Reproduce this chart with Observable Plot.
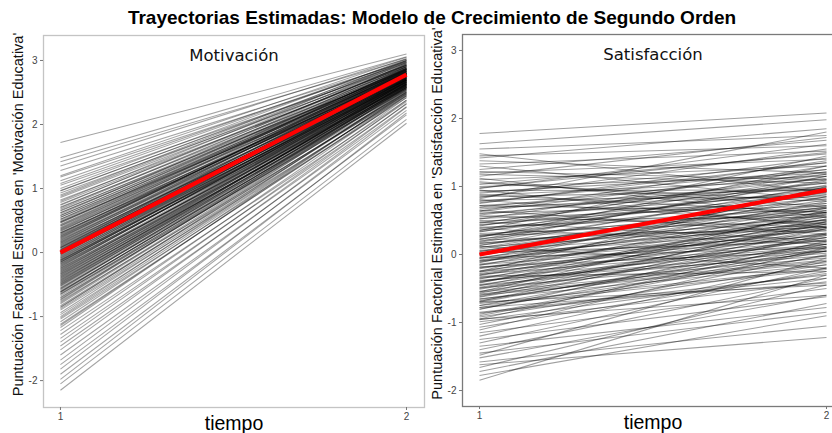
<!DOCTYPE html>
<html>
<head>
<meta charset="utf-8">
<script src="https://cdn.jsdelivr.net/npm/d3@7"></script>
<script src="https://cdn.jsdelivr.net/npm/@observablehq/plot@0.6"></script>
<style>
  html, body { margin: 0; padding: 0; background: #fff; }
  body { width: 832px; height: 433px; overflow: hidden; position: relative; font-family: "Liberation Sans", Arial, sans-serif; }
  #title { position: absolute; left: 0; top: 7px; width: 864px; text-align: center; font: bold 19px "Liberation Sans", Arial, sans-serif; color: #000; white-space: nowrap; z-index: 2; }
  .panel { position: absolute; top: 0; }
  .panel svg { max-width: none !important; }
</style>
</head>
<body>
<div id="title">Trayectorias Estimadas: Modelo de Crecimiento de Segundo Orden</div>
<div id="left" class="panel" style="left:0px"></div>
<div id="right" class="panel" style="left:415px"></div>
<script>
// ---- data ----
const tiempos = [1, 2];
const yTicksMot = [-2, -1, 0, 1, 2, 3];
const yTicksSat = [-2, -1, 0, 1, 2, 3];

const motStart = [
  1.72, 1.48, 1.42, 1.35, 1.28, 1.20, 1.18, 1.12, 1.05, 1.00,
  0.97, 0.93, 0.90, 0.86, 0.82, 0.80, 0.78, 0.74, 0.71, 0.68,
  0.65, 0.62, 0.60, 0.58, 0.55, 0.52, 0.50, 0.48, 0.46, 0.43,
  0.41, 0.39, 0.37, 0.35, 0.33, 0.31, 0.29, 0.27, 0.25, 0.24,
  0.22, 0.20, 0.18, 0.17, 0.15, 0.13, 0.12, 0.10, 0.08, 0.07,
  0.05, 0.04, 0.02, 0.01, -0.01, -0.02, -0.04, -0.05, -0.07, -0.08,
  -0.10, -0.11, -0.13, -0.14, -0.16, -0.17, -0.19, -0.20, -0.22, -0.24,
  -0.25, -0.27, -0.29, -0.30, -0.32, -0.34, -0.36, -0.38, -0.40, -0.42,
  -0.44, -0.46, -0.48, -0.50, -0.52, -0.55, -0.57, -0.60, -0.62, -0.65,
  -0.68, -0.70, -0.73, -0.76, -0.80, -0.83, -0.86, -0.90, -0.94, -0.97,
  -1.00, -1.04, -1.08, -1.12, -1.17, -1.22, -1.28, -1.34, -1.40, -1.46,
  -1.52, -1.60, -1.68, -1.75, -1.82, -1.90, -1.98, -2.05, -2.15, 0.03,
  0.28, -0.33, 0.58, -0.62, 0.09, -0.15, 0.44, -0.85, 0.75, -0.45,
  0.62, 0.55, 0.48, 0.42, 0.36, 0.30, 0.26, 0.21, 0.16, 0.11,
  0.06, 0.00, -0.03, -0.06, -0.09, -0.12, -0.18, -0.21, -0.26, -0.31,
  -0.35, -0.39, -0.43, -0.47, -0.51, -0.56, -0.61, -0.66, -0.71, -0.78,
  0.70, 0.52, 0.38, 0.19, 0.04, -0.15, -0.28, -0.49, -0.64, -0.88,
  0.88, 0.34, 0.14, -0.02, -0.23, -0.41, -0.58, 0.47, 0.23, -0.12,
  0.96, 1.08, -1.02, -1.14, 0.66, -0.74, 0.08, -0.37, 0.31, -0.53
];
const motEnd = [
  3.10, 3.06, 3.02, 3.05, 2.98, 3.03, 2.96, 3.00, 2.92, 3.02,
  2.95, 2.90, 3.00, 2.93, 2.88, 2.99, 2.91, 2.97, 2.86, 2.94,
  2.90, 2.84, 2.95, 2.88, 2.82, 2.93, 2.87, 2.80, 2.91, 2.85,
  2.79, 2.89, 2.83, 2.77, 2.90, 2.81, 2.86, 2.75, 2.84, 2.79,
  2.88, 2.74, 2.82, 2.78, 2.85, 2.72, 2.80, 2.76, 2.83, 2.70,
  2.79, 2.74, 2.82, 2.69, 2.77, 2.72, 2.80, 2.67, 2.75, 2.70,
  2.78, 2.66, 2.73, 2.69, 2.76, 2.63, 2.71, 2.67, 2.74, 2.61,
  2.70, 2.65, 2.72, 2.60, 2.68, 2.63, 2.71, 2.58, 2.66, 2.61,
  2.69, 2.56, 2.64, 2.59, 2.67, 2.53, 2.62, 2.57, 2.64, 2.50,
  2.59, 2.54, 2.62, 2.48, 2.56, 2.51, 2.58, 2.45, 2.53, 2.47,
  2.55, 2.42, 2.49, 2.44, 2.51, 2.38, 2.45, 2.36, 2.42, 2.32,
  2.38, 2.28, 2.33, 2.22, 2.27, 2.15, 2.18, 2.08, 2.02, 2.76,
  2.80, 2.66, 2.86, 2.60, 2.73, 2.70, 2.88, 2.52, 2.92, 2.63,
  2.90, 2.86, 2.84, 2.87, 2.82, 2.78, 2.84, 2.80, 2.76, 2.79,
  2.74, 2.78, 2.72, 2.76, 2.71, 2.75, 2.68, 2.72, 2.66, 2.70,
  2.64, 2.68, 2.62, 2.66, 2.60, 2.63, 2.58, 2.61, 2.56, 2.58,
  2.93, 2.81, 2.86, 2.83, 2.80, 2.73, 2.69, 2.64, 2.55, 2.50,
  2.97, 2.76, 2.71, 2.66, 2.77, 2.58, 2.68, 2.80, 2.86, 2.64,
  2.98, 3.00, 2.48, 2.46, 2.83, 2.60, 2.77, 2.62, 2.74, 2.57
];
const motMean = [0, 2.78];

const satStart = [
  1.78, 1.63, 1.55, 1.48, 1.45, 1.42, 1.38, 1.33, 1.30, 1.25,
  1.20, 1.18, 1.15, 1.10, 1.07, 1.03, 1.00, 0.97, 0.94, 0.90,
  0.87, 0.84, 0.80, 0.78, 0.75, 0.72, 0.70, 0.67, 0.64, 0.61,
  0.58, 0.55, 0.52, 0.50, 0.47, 0.44, 0.42, 0.39, 0.36, 0.33,
  0.31, 0.28, 0.26, 0.23, 0.21, 0.18, 0.16, 0.13, 0.11, 0.08,
  0.06, 0.04, 0.01, -0.01, -0.04, -0.06, -0.09, -0.11, -0.14, -0.16,
  -0.19, -0.21, -0.24, -0.26, -0.29, -0.31, -0.34, -0.36, -0.39, -0.41,
  -0.44, -0.46, -0.49, -0.51, -0.54, -0.57, -0.60, -0.63, -0.66, -0.69,
  -0.72, -0.75, -0.78, -0.81, -0.85, -0.88, -0.92, -0.95, -0.99, -1.03,
  -1.07, -1.11, -1.15, -1.20, -1.25, -1.30, -1.35, -1.40, -1.45, -1.48,
  -1.52, -1.58, -1.62, -1.66, -1.72, -1.78, -1.85, 0.95, 0.35, -0.25,
  0.65, 0.12, -0.55, 1.12, -0.05, 0.48, -0.70, 0.25, -0.32, 0.82,
  0.92, 0.85, 0.76, 0.69, 0.60, 0.53, 0.46, 0.40, 0.34, 0.27,
  0.22, 0.17, 0.10, 0.05, 0.00, -0.05, -0.10, -0.15, -0.20, -0.25,
  -0.30, -0.35, -0.40, -0.45, -0.50, -0.55, -0.60, -0.65, -0.70, -0.75,
  -0.80, -0.86, -0.90, -0.96, 0.98, 0.88, 0.72, 0.57, 0.43, 0.29,
  0.14, 0.02, -0.08, -0.18, -0.28, -0.38, -0.48, -0.58, -0.68, -0.78,
  1.22, 1.05, 0.80, 0.63, 0.38, 0.19, -0.12, -0.42, -0.62, -0.95
];
const satEnd = [
  2.08, 1.98, 1.75, 0.92, 1.60, 1.85, 1.20, 1.52, 0.80, 1.68,
  1.40, 1.05, 1.72, 1.30, 0.70, 1.48, 1.15, 1.62, 0.95, 1.35,
  1.10, 1.55, 0.85, 1.25, 1.42, 0.62, 1.18, 0.98, 1.38, 0.75,
  1.12, 0.90, 1.30, 0.55, 1.05, 0.82, 1.22, 0.68, 0.98, 1.15,
  0.50, 0.88, 1.08, 0.72, 0.40, 0.95, 0.62, 1.02, 0.45, 0.80,
  0.58, 0.92, 0.35, 0.70, 0.48, 0.85, 0.28, 0.62, 0.42, 0.78,
  0.20, 0.55, 0.38, 0.68, 0.12, 0.48, 0.30, 0.60, 0.05, 0.40,
  0.22, 0.52, -0.05, 0.32, 0.15, 0.45, -0.12, 0.25, 0.05, 0.38,
  -0.20, 0.15, -0.02, 0.30, -0.30, 0.08, -0.15, 0.20, -0.40, 0.00,
  -0.25, 0.10, -0.50, -0.10, -0.62, -0.20, -0.78, -0.35, -0.85, -0.05,
  -0.60, -1.05, -1.22, -0.45, -0.72, -0.90, -0.30, 0.40, 1.45, 1.00,
  0.30, -0.20, 0.65, 0.55, 0.10, 0.20, -0.45, 1.30, -0.25, 1.80,
  1.20, 0.95, 1.35, 0.88, 1.05, 0.72, 1.18, 0.60, 0.92, 0.65,
  1.10, 0.50, 0.85, 0.42, 0.75, 0.30, 0.68, 0.25, 0.58, 0.15,
  0.52, 0.10, 0.45, 0.02, 0.38, -0.08, 0.28, -0.15, 0.18, -0.22,
  0.10, -0.35, 0.05, -0.28, 1.50, 0.62, 1.00, 0.40, 0.95, 0.35,
  0.70, 0.20, 0.55, 0.05, 0.40, -0.02, 0.25, -0.10, 0.12, -0.42,
  1.10, 0.78, 0.45, 1.25, 0.15, 1.15, 0.95, 0.62, 0.48, -0.60
];
const satMean = [0, 0.95];

// ---- drawing ----
const toRows = (a, b) => a.map((s, i) => ({s, e: b[i]}));

function panel({rows, mean, yDomain, yTicks, title, ylabel, width, marginLeft, marginRight, marginTop, marginBottom, opacity, xDomain, frameColor}) {
  const tick = d => String(d);
  const marks = [
    Plot.link(rows, {
      x1: () => tiempos[0], x2: () => tiempos[1],
      y1: "s", y2: "e",
      stroke: "#000", strokeOpacity: opacity, strokeWidth: 1.05
    }),
    Plot.link([mean], {
      x1: () => tiempos[0], x2: () => tiempos[1],
      y1: d => d[0], y2: d => d[1],
      stroke: "#ff0000", strokeWidth: 4.2, strokeLinecap: "butt"
    }),
    Plot.frame({stroke: frameColor, strokeWidth: 1.3}),
    Plot.axisX({ticks: tiempos, tickFormat: tick, tickSize: 3, tickPadding: 2, fontSize: 10, label: null, stroke: "#777", fill: "#444"}),
    Plot.axisY({ticks: yTicks, tickFormat: tick, tickSize: 3, tickPadding: 3, fontSize: 10, label: null, stroke: "#777", fill: "#444"}),
    Plot.text([title], {frameAnchor: "top", dy: 14, fontSize: 16.5, fontFamily: "DejaVu Sans", fill: "#111"}),
    Plot.text(["tiempo"], {frameAnchor: "bottom", dy: 22, fontSize: 19.5, fill: "#000"}),
    Plot.text([ylabel], {frameAnchor: "left", textAnchor: "middle", rotate: -90, dx: -25, dy: -7, fontSize: 14.5, fill: "#111"})
  ];
  return Plot.plot({
    width, height: 433,
    marginLeft, marginRight, marginTop, marginBottom,
    style: {fontFamily: "'Liberation Sans', Arial, sans-serif", background: "transparent", overflow: "visible", maxWidth: "none"},
    x: {domain: xDomain, axis: null},
    y: {domain: yDomain, axis: null},
    marks
  });
}

document.getElementById("left").append(panel({
  rows: toRows(motStart, motEnd), mean: motMean,
  yDomain: [-2.42, 3.39], yTicks: yTicksMot,
  title: "Motivación",
  ylabel: "Puntuación Factorial Estimada en 'Motivación Educativa'",
  width: 430, marginLeft: 43, marginRight: 6, marginTop: 35, marginBottom: 26,
  opacity: 0.36, xDomain: [0.951, 2.052], frameColor: "#c4c4c4"
}));

document.getElementById("right").append(panel({
  rows: toRows(satStart, satEnd), mean: satMean,
  yDomain: [-2.235, 3.235], yTicks: yTicksSat,
  title: "Satisfacción",
  ylabel: "Puntuación Factorial Estimada en 'Satisfacción Educativa'",
  width: 432, marginLeft: 47, marginRight: 4, marginTop: 34, marginBottom: 27,
  opacity: 0.38, xDomain: [0.951, 2.049], frameColor: "#7a7a7a"
}));
</script>
</body>
</html>
